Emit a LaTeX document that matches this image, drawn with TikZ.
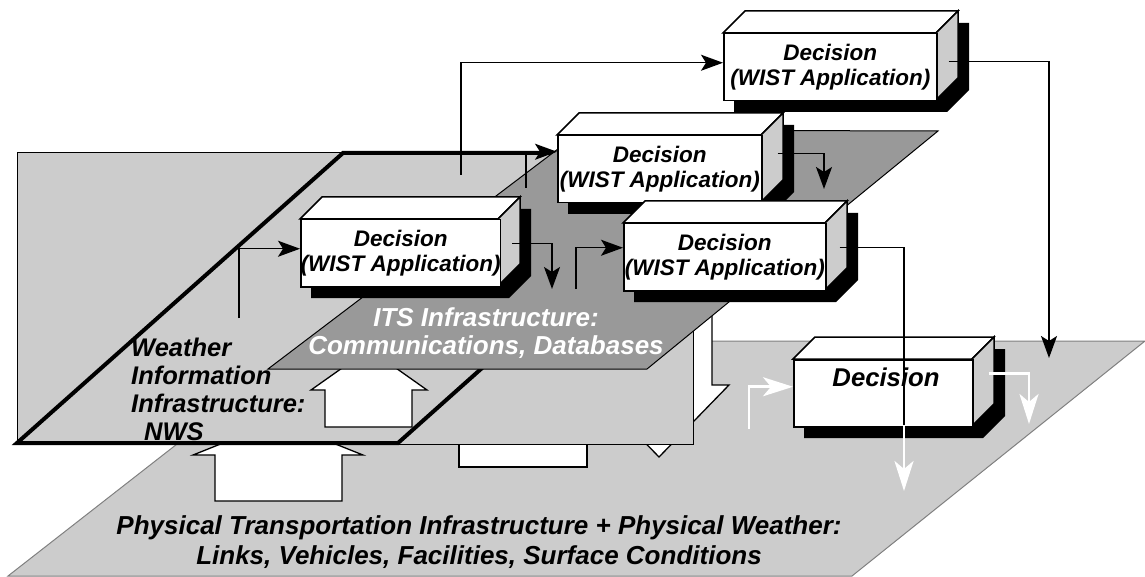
\documentclass[tikz,border=0pt]{standalone}
\usepackage{fontspec}
\setmainfont{Liberation Sans}
\usetikzlibrary{arrows.meta,calc}
\definecolor{lgray}{HTML}{CCCCCC}
\definecolor{dgray}{HTML}{999999}
\definecolor{pgray}{HTML}{808080}
\newcommand{\declabel}{\fontsize{22.5}{25}\selectfont\bfseries\itshape}
\newcommand{\biglabel}{\fontsize{26}{28}\selectfont\bfseries\itshape}
\newcommand{\wlabel}{\fontsize{25.5}{28}\selectfont\bfseries\itshape}
\newcommand{\plabel}{\fontsize{26}{29.5}\selectfont\bfseries\itshape}
\tikzset{
  conn/.style={line width=1.5pt, draw=black},
  connarrow/.style={conn, -{Stealth[length=22pt,width=16pt,inset=5pt]}},
  wconn/.style={line width=2.8pt, draw=white},
  wconnarrow/.style={wconn, -{Stealth[length=30pt,width=19pt,inset=8pt]}},
  boxline/.style={line width=1.5pt, draw=black, line join=miter},
  face/.style={boxline, fill=white, inner sep=0pt, anchor=north west, align=center, font=\declabel},
  hollow/.style={draw=black, line width=1.3pt, fill=white, line join=miter},
  plane/.style={line join=miter},
}
\newcommand{\decbox}[5]{%
  \fill[black] ({#2+11},{#3+79}) -- ({#2+11},{#3+12}) -- ({#2+33},{#3-10}) -- ({#2+#4+33},{#3-10}) -- ({#2+#4+33},{#3+57}) -- ({#2+#4+11},{#3+79}) -- cycle;
  \filldraw[boxline, fill=white] (#2,#3) -- ({#2+22},{#3-22}) -- ({#2+#4+22},{#3-22}) -- ({#2+#4},#3) -- cycle;
  \filldraw[boxline, fill=lgray] ({#2+#4},#3) -- ({#2+#4+22},{#3-22}) -- ({#2+#4+22},{#3+45}) -- ({#2+#4},{#3+67}) -- cycle;
  \node[face, minimum width=#4pt, minimum height=67pt] (#1) at (#2,#3) {#5};
}
\begin{document}
\begin{tikzpicture}[x=1pt,y=-1pt]
\useasboundingbox (0,0) rectangle (1145,577);
% bottom plane
\filldraw[plane, fill=lgray, draw=pgray, line width=1pt] (8,576) -- (852,576) -- (1145,341) -- (309,341) -- cycle;
% hollow arrows behind the wall
\filldraw[hollow] (215,501) -- (215,455) -- (193,455) -- (278,421) -- (363,455) -- (342,455) -- (342,501) -- cycle;
\filldraw[hollow] (459,420) rectangle (587,467);
\filldraw[hollow] (606,300) -- (606,385) -- (589,385) -- (659,457) -- (729,385) -- (712,385) -- (712,300) -- cycle;
% wall
\filldraw[fill=lgray, draw=black, line width=1pt] (17,153) rectangle (693,444);
% weather plane
\filldraw[plane, fill=lgray, draw=black, line width=4pt] (17,443) -- (343,153) -- (723,153) -- (398,443) -- cycle;
% arrow weather -> ITS
\filldraw[hollow] (325,427) -- (325,390) -- (311,390) -- (369,349) -- (427,390) -- (412,390) -- (412,427) -- cycle;
% ITS plane
\filldraw[plane, fill=dgray, draw=black, line width=1pt] (268,369) -- (583,130) -- (938,131) -- (647,369) -- cycle;
% labels on planes
\node[font=\wlabel, align=left, anchor=west, inner sep=0pt] (wlab) at (131,389) {Weather\\Information\\Infrastructure:\\\hspace*{13pt}NWS};
\node[font=\biglabel, text=white, align=center, inner sep=0pt] (itslab) at (486,333) {ITS Infrastructure:\\Communications, Databases};
\node[font=\plabel, align=center, inner sep=0pt] (ptlab) at (479,542) {Physical Transportation Infrastructure + Physical Weather:\\Links, Vehicles, Facilities, Surface Conditions};
% decision boxes
\decbox{T}{723}{33}{213}{Decision\\(WIST Application)}
\decbox{B2}{557}{135}{204}{Decision\\(WIST Application)}
\decbox{B1}{300}{219}{198}{Decision\\(WIST Application)}
\decbox{B3}{623}{223}{202}{Decision\\(WIST Application)}
\decbox{B4}{793}{359}{179}{}
\node[font=\fontsize{25.7}{28}\selectfont\bfseries\itshape, inner sep=0pt] (B4l) at (886,377) {Decision};
% connectors
\coordinate (w1) at (239,318);
\coordinate (w2) at (461,175);
\coordinate (w3) at (526,188);
\coordinate (i1) at (576,289);
\coordinate (e1) at (552,289);
\coordinate (e2) at (824,189);
\coordinate (e3) at (1049,358);
\coordinate (e4) at (904,425);
\coordinate (e5) at (904,491);
\coordinate (w4) at (749,429);
\coordinate (e6) at (1029,424);
\draw[connarrow] (w1) |- ([yshift=4.5pt]B1.west);
\draw[connarrow] (w2) |- ([yshift=4.5pt]T.west);
\draw[connarrow] (w3) |- ([yshift=17.5pt]B2.west);
\draw[connarrow] (i1) |- ([yshift=9.5pt]B3.west);
\draw[connarrow] ([shift={(11pt,9.5pt)}]B1.east) -| (e1);
\draw[connarrow] ([shift={(15pt,15.5pt)}]B2.east) -| (e2);
\draw[connarrow] ([shift={(11pt,5.5pt)}]T.east) -| (e3);
\draw[conn] ([shift={(13pt,9.5pt)}]B3.east) -| (e4);
\draw[wconnarrow] (e4) -- (e5);
\draw[wconnarrow] (w4) |- ([yshift=6.5pt]B4.west);
\draw[wconnarrow] ([shift={(15pt,19.5pt)}]B4.east) -| (e6);
\end{tikzpicture}
\end{document}
